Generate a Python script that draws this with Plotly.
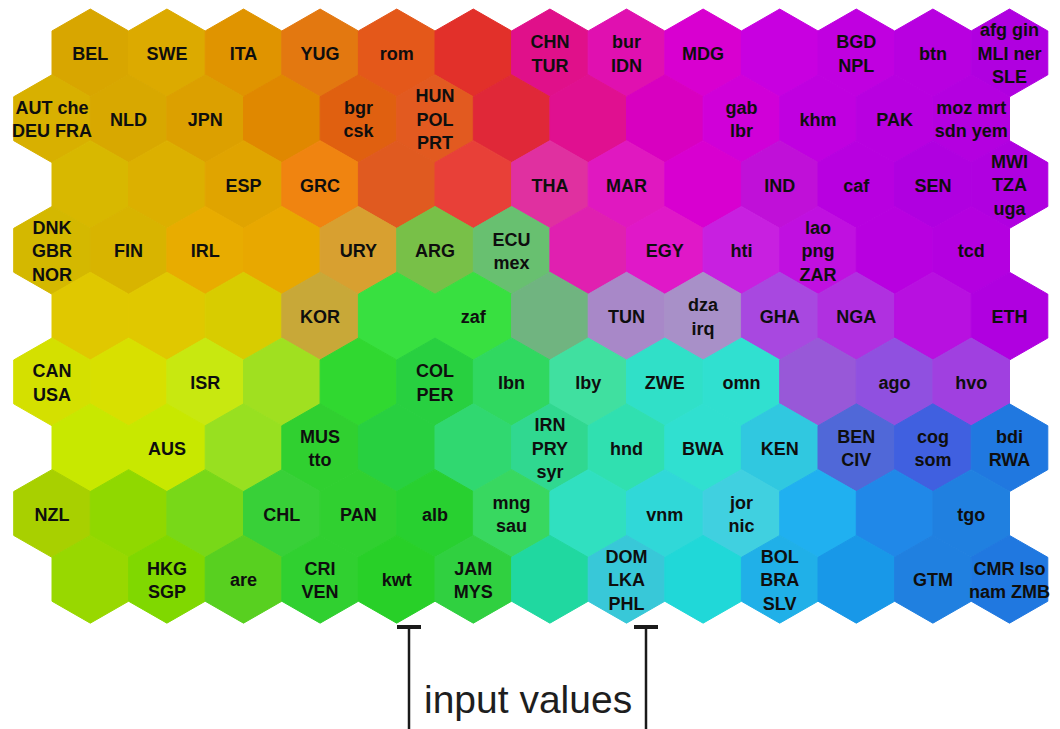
import plotly.graph_objects as go

# Self-organizing map: 9 rows x 13 columns of hexagonal nodes
node_labels = [
    ["BEL", "SWE", "ITA", "YUG", "rom", "", "CHN<br>TUR", "bur<br>IDN", "MDG", "", "BGD<br>NPL", "btn", "afg gin<br>MLI ner<br>SLE"],
    ["AUT che<br>DEU FRA", "NLD", "JPN", "", "bgr<br>csk", "HUN<br>POL<br>PRT", "", "", "", "gab<br>lbr", "khm", "PAK", "moz mrt<br>sdn yem"],
    ["", "", "ESP", "GRC", "", "", "THA", "MAR", "", "IND", "caf", "SEN", "MWI<br>TZA<br>uga"],
    ["DNK<br>GBR<br>NOR", "FIN", "IRL", "", "URY", "ARG", "ECU<br>mex", "", "EGY", "hti", "lao<br>png<br>ZAR", "", "tcd"],
    ["", "", "", "KOR", "", "zaf", "", "TUN", "dza<br>irq", "GHA", "NGA", "", "ETH"],
    ["CAN<br>USA", "", "ISR", "", "", "COL<br>PER", "lbn", "lby", "ZWE", "omn", "", "ago", "hvo"],
    ["", "AUS", "", "MUS<br>tto", "", "", "IRN<br>PRY<br>syr", "hnd", "BWA", "KEN", "BEN<br>CIV", "cog<br>som", "bdi<br>RWA"],
    ["NZL", "", "", "CHL", "PAN", "alb", "mng<br>sau", "", "vnm", "jor<br>nic", "", "", "tgo"],
    ["", "HKG<br>SGP", "are", "CRI<br>VEN", "kwt", "JAM<br>MYS", "", "DOM<br>LKA<br>PHL", "", "BOL<br>BRA<br>SLV", "", "GTM", "CMR lso<br>nam ZMB"],
]

node_colors = [
    ["#d8a600", "#dcaa00", "#e09400", "#e37810", "#e4581a", "#e2302a", "#e0108a", "#e010b0", "#d800d0", "#c800e0", "#c000e0", "#b800e0", "#b000e0"],
    ["#d8b000", "#d8a800", "#dca000", "#e08800", "#e06010", "#e25a20", "#e02838", "#e01090", "#d800c0", "#d000d8", "#c000e0", "#b800e0", "#b400e0"],
    ["#d8b800", "#dcb000", "#e0a400", "#f08410", "#e05a20", "#e84038", "#e030a0", "#e018c0", "#d800d0", "#c010d8", "#b800e0", "#b000e0", "#b000e0"],
    ["#d4b800", "#d8b400", "#e8ac00", "#e8a800", "#d8a030", "#78c048", "#68c070", "#e020b0", "#e018c8", "#c820e0", "#c010e0", "#b800e0", "#b400e0"],
    ["#e0c800", "#e0c800", "#d8cc00", "#c8a838", "#38e040", "#38e040", "#70b480", "#a888c8", "#a890c8", "#a848e0", "#b030e0", "#b810e0", "#b000e0"],
    ["#d4e000", "#d8e000", "#c8e810", "#a0e020", "#30d830", "#28d040", "#30d860", "#40e0a0", "#30e0c8", "#30e0d0", "#9858d8", "#9050e0", "#a040e0"],
    ["#c8e800", "#c8e800", "#98e020", "#30d030", "#28d040", "#30d870", "#30d890", "#30e0b0", "#30e0d0", "#30c8e0", "#5068d8", "#4060e0", "#2078e0"],
    ["#a8d000", "#90d800", "#78d818", "#38d038", "#30d030", "#28d030", "#38d860", "#30e0c0", "#30d8d8", "#40d0e0", "#20b0f0", "#2088e8", "#2080e0"],
    ["#98d800", "#80d800", "#58d020", "#30d030", "#28d028", "#30d040", "#20d8a0", "#38c8d8", "#20d8d8", "#20b0e8", "#1898e8", "#2080e0", "#2078e0"],
]

annotation_text = "input values"

# grid geometry (in page-pixel units of the axes)
HEX_W = 76.6
HEX_R = 43.86
ROW_DY = 65.8
X0_ODD = 52.0
Y0 = 52.9
LABEL_DY = 2.5

# the page body has an 8px margin; the axes are laid out in page pixels
PAGE_OFF = 8
FIG_W, FIG_H = 1060 - PAGE_OFF, 729 - PAGE_OFF


def center(r, c):
    x = X0_ODD + HEX_W * c + (HEX_W / 2 if r % 2 == 0 else 0)
    y = Y0 + ROW_DY * r
    return x, y


fig = go.Figure()

for r, row in enumerate(node_colors):
    for c, col in enumerate(row):
        cx, cy = center(r, c)
        hw = HEX_W / 2
        xs = [cx, cx + hw, cx + hw, cx, cx - hw, cx - hw, cx]
        ys = [cy - HEX_R, cy - HEX_R / 2, cy + HEX_R / 2, cy + HEX_R, cy + HEX_R / 2, cy - HEX_R / 2, cy - HEX_R]
        fig.add_trace(go.Scatter(
            x=xs, y=ys, mode="lines", fill="toself", fillcolor=col,
            line=dict(color=col, width=1), hoverinfo="skip", showlegend=False,
        ))

tx, ty, tt = [], [], []
for r, row in enumerate(node_labels):
    for c, lab in enumerate(row):
        if lab:
            cx, cy = center(r, c)
            tx.append(cx)
            ty.append(cy + LABEL_DY)
            tt.append(lab)

fig.add_trace(go.Scatter(
    x=tx, y=ty, text=tt, mode="text",
    textfont=dict(family="Liberation Sans, Arial, sans-serif", size=18, color="#0e0e0e", weight="bold"),
    hoverinfo="skip", showlegend=False,
))

# "input values" pointers
for xp in (409, 646):
    fig.add_shape(type="line", x0=xp, x1=xp, y0=628, y1=729, line=dict(color="#1a1a1a", width=2.5))
    fig.add_shape(type="line", x0=xp - 12, x1=xp + 12, y0=627, y1=627, line=dict(color="#1a1a1a", width=4))

fig.add_annotation(
    x=528, y=699, text=annotation_text, showarrow=False, xanchor="center", yanchor="middle",
    font=dict(family="Liberation Sans, Arial, sans-serif", size=39, color="#1e1e1e"),
)

fig.update_layout(
    width=FIG_W, height=FIG_H,
    margin=dict(l=0, r=0, t=0, b=0),
    paper_bgcolor="white", plot_bgcolor="white",
    xaxis=dict(range=[PAGE_OFF, 1060], visible=False, fixedrange=True),
    yaxis=dict(range=[729, PAGE_OFF], visible=False, fixedrange=True),
)

fig.write_html("out.html")
